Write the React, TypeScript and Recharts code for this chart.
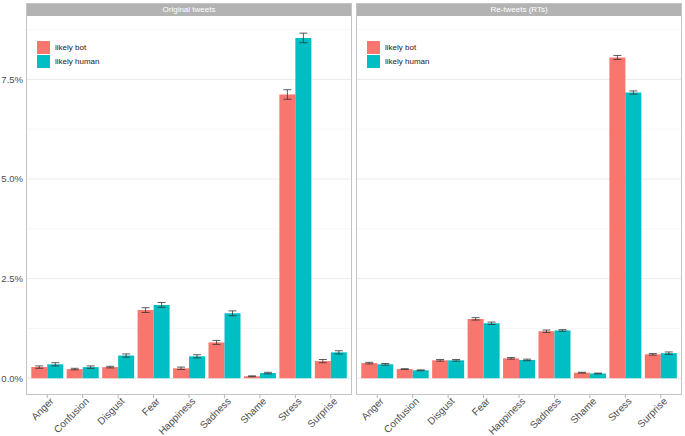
import React from "react";
import { BarChart, Bar, XAxis, YAxis, CartesianGrid, ErrorBar } from "recharts";

const EMOTIONS = ["Anger", "Confusion", "Disgust", "Fear", "Happiness", "Sadness", "Shame", "Stress", "Surprise"];

// percentages
const ORIG_BOT = [0.28, 0.23, 0.28, 1.71, 0.25, 0.9, 0.05, 7.12, 0.43];
const ORIG_HUMAN = [0.35, 0.28, 0.57, 1.84, 0.55, 1.63, 0.13, 8.54, 0.65];
const ORIG_BOT_ERR = [0.03, 0.02, 0.02, 0.06, 0.03, 0.05, 0.01, 0.12, 0.04];
const ORIG_HUMAN_ERR = [0.04, 0.03, 0.04, 0.06, 0.04, 0.06, 0.02, 0.12, 0.04];

const RT_BOT = [0.38, 0.23, 0.45, 1.49, 0.5, 1.18, 0.14, 8.05, 0.6];
const RT_HUMAN = [0.35, 0.2, 0.45, 1.38, 0.46, 1.2, 0.12, 7.17, 0.63];
const RT_BOT_ERR = [0.02, 0.01, 0.02, 0.03, 0.02, 0.03, 0.01, 0.05, 0.02];
const RT_HUMAN_ERR = [0.02, 0.01, 0.02, 0.03, 0.02, 0.02, 0.01, 0.04, 0.03];

const MAJOR_TICKS = [0, 2.5, 5, 7.5];
const MINOR_TICKS = [1.25, 3.75, 6.25, 8.75];

const BOT_COLOR = "#F8766D";
const HUMAN_COLOR = "#00BFC4";
const FONT = "'Liberation Sans', Arial, sans-serif";

function buildRows(bot: number[], human: number[], botErr: number[], humanErr: number[]) {
  return EMOTIONS.map((name, i) => ({
    name,
    bot: bot[i],
    human: human[i],
    botErr: botErr[i],
    humanErr: humanErr[i],
  }));
}

function AngledTick(props: any) {
  const { x, y, payload } = props;
  return (
    <g transform={`translate(${x},${y})`}>
      <text
        x={0}
        y={0}
        dy={7}
        dx={3}
        textAnchor="end"
        transform="rotate(-45)"
        fill="#4D4D4D"
        fontSize={10}
        fontFamily={FONT}
      >
        {payload.value}
      </text>
    </g>
  );
}

function LegendBox() {
  const items = [
    { label: "likely bot", color: BOT_COLOR },
    { label: "likely human", color: HUMAN_COLOR },
  ];
  return (
    <div style={{ fontFamily: FONT, fontSize: 8, color: "#222" }}>
      {items.map((it) => (
        <div key={it.label} style={{ display: "flex", alignItems: "center", height: 14 }}>
          <div style={{ width: 13, height: 13, background: it.color, marginRight: 5 }} />
          <span>{it.label}</span>
        </div>
      ))}
    </div>
  );
}

interface PanelProps {
  title: string;
  data: ReturnType<typeof buildRows>;
  left: number;
  width: number;
  showY: boolean;
}

function Panel({ title, data, left, width, showY }: PanelProps) {
  const yw = showY ? 24 : 0;
  const marginLeft = 2;
  const plotLeft = marginLeft + yw;
  const marginRight = showY ? 2 : 3;
  return (
    <div style={{ position: "absolute", left, top: 0, width, height: 436 }}>
      <BarChart
        width={width}
        height={436}
        data={data}
        margin={{ top: 16, right: marginRight, left: marginLeft, bottom: 0 }}
        barCategoryGap="5%"
        barGap={0}
      >
        <CartesianGrid
          vertical={false}
          horizontalValues={MINOR_TICKS}
          stroke="#F2F2F2"
          strokeWidth={0.6}
        />
        <CartesianGrid
          vertical={false}
          horizontalValues={MAJOR_TICKS}
          stroke="#E6E6E6"
          strokeWidth={0.8}
        />
        <XAxis
          dataKey="name"
          height={41}
          axisLine={false}
          tickLine={{ stroke: "#B3B3B3" }}
          tickSize={3}
          tickMargin={1}
          interval={0}
          padding={{ left: 3.5, right: 3.5 }}
          tick={<AngledTick />}
        />
        <YAxis
          hide={!showY}
          width={yw}
          type="number"
          domain={[-0.42, 9.09]}
          allowDataOverflow
          ticks={MAJOR_TICKS}
          tickFormatter={(v: number) => `${v.toFixed(1)}%`}
          axisLine={false}
          tickLine={false}
          tickSize={0}
          tickMargin={3}
          tick={{ fontSize: 9.5, fill: "#4D4D4D", fontFamily: FONT }}
        />
        <Bar dataKey="bot" name="likely bot" fill={BOT_COLOR} isAnimationActive={false}>
          <ErrorBar dataKey="botErr" width={4} stroke="#333" strokeWidth={0.8} />
        </Bar>
        <Bar dataKey="human" name="likely human" fill={HUMAN_COLOR} isAnimationActive={false}>
          <ErrorBar dataKey="humanErr" width={4} stroke="#333" strokeWidth={0.8} />
        </Bar>
      </BarChart>
      <div style={{ position: "absolute", left: plotLeft + 11, top: 40 }}>
        <LegendBox />
      </div>
      <div
        style={{
          position: "absolute",
          left: plotLeft,
          top: 3,
          width: width - plotLeft - marginRight,
          height: 13,
          background: "#B3B3B3",
          color: "#FFFFFF",
          fontFamily: FONT,
          fontSize: 8,
          lineHeight: "13px",
          textAlign: "center",
        }}
      >
        {title}
      </div>
      <div
        style={{
          position: "absolute",
          left: plotLeft,
          top: 3,
          width: width - plotLeft - marginRight,
          height: 392,
          border: "1px solid #C4C4C4",
          boxSizing: "border-box",
          pointerEvents: "none",
        }}
      />
    </div>
  );
}

export default function App() {
  const orig = buildRows(ORIG_BOT, ORIG_HUMAN, ORIG_BOT_ERR, ORIG_HUMAN_ERR);
  const rt = buildRows(RT_BOT, RT_HUMAN, RT_BOT_ERR, RT_HUMAN_ERR);
  return (
    <div style={{ position: "absolute", left: 0, top: 0, width: 685, height: 436, background: "#fff" }}>
      <Panel title="Original tweets" data={orig} left={0} width={354} showY />
      <Panel title="Re-tweets (RTs)" data={rt} left={354} width={331} showY={false} />
    </div>
  );
}
